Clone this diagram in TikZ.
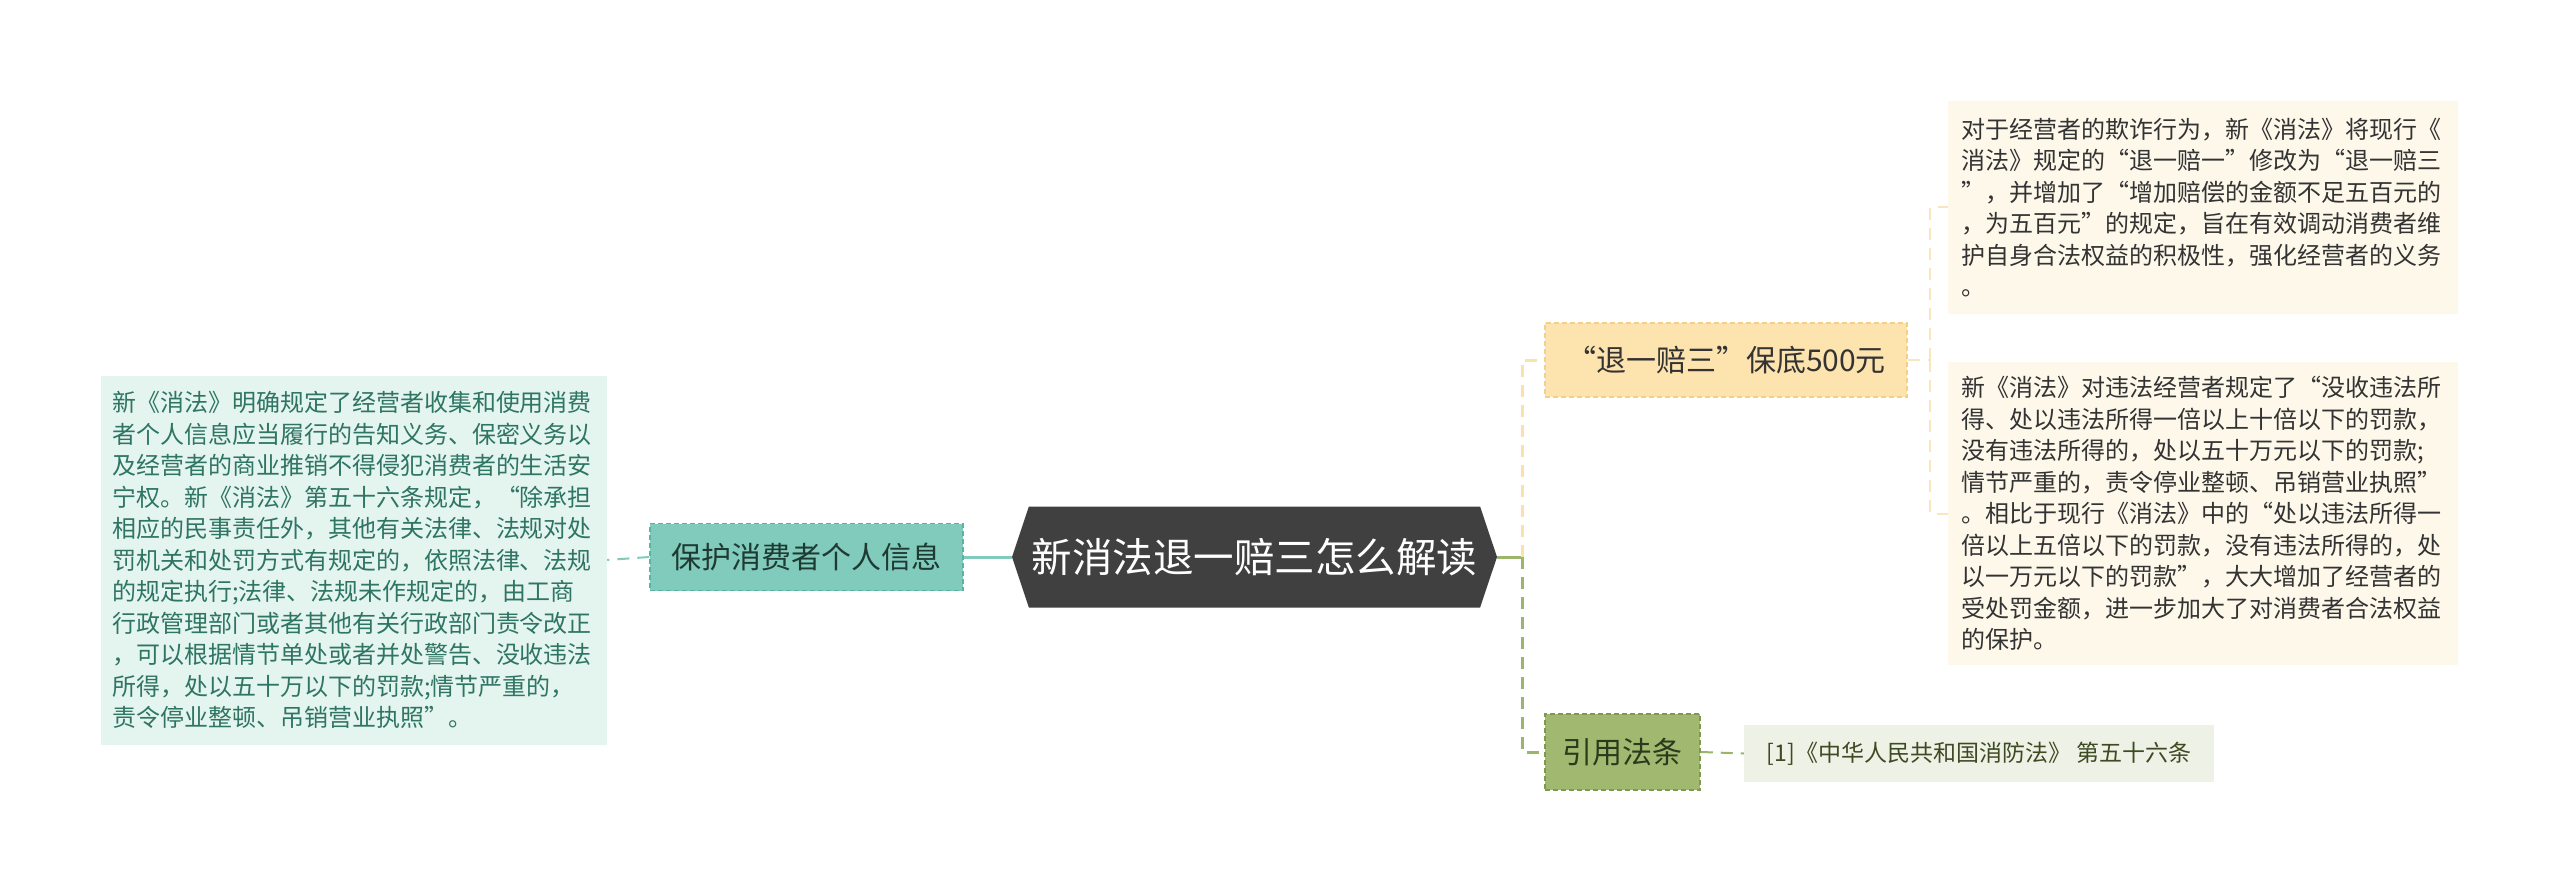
\documentclass[tikz,border=0pt]{standalone}
\usepackage{fontspec}
\setmainfont{Noto Sans CJK SC}
\usetikzlibrary{shapes.symbols}
\definecolor{rootc}{HTML}{404040}
\definecolor{tealc}{HTML}{80CBBB}
\definecolor{tealb}{HTML}{5EB3A0}
\definecolor{tealbox}{HTML}{E4F4EF}
\definecolor{tealtxt}{HTML}{2E7563}
\definecolor{tealdark}{HTML}{1F3A33}
\definecolor{yelc}{HTML}{FDE3AE}
\definecolor{yelb}{HTML}{F2CF8A}
\definecolor{yelline}{HTML}{F8E6BC}
\definecolor{yeltrunk}{HTML}{FAE2A8}
\definecolor{creambox}{HTML}{FDF8EA}
\definecolor{grnc}{HTML}{A0B870}
\definecolor{grnb}{HTML}{7F9A50}
\definecolor{grnline}{HTML}{9BB56A}
\definecolor{grnbox}{HTML}{EEF1E5}
\definecolor{grntxt}{HTML}{3D4A22}
\definecolor{grndark}{HTML}{2B3A1A}
\definecolor{txtc}{HTML}{333333}
\newcommand{\fsz}[2]{\fontsize{#1}{#2}\selectfont}
\begin{document}
\begin{tikzpicture}[x=1pt,y=-1pt,
  topic/.style={draw, dash pattern=on 5pt off 3pt, line width=1.5pt, inner sep=0pt, font=\fsz{30}{36}},
  textbox/.style={inner ysep=0pt, align=left, font=\fsz{24}{31.5}},
  dashline/.style={dash pattern=on 12pt off 8pt}
]
\useasboundingbox[fill=white] (0,0) rectangle (2560,893);

% root
\node[signal, signal to=west and east, signal pointer angle=143, fill=rootc, text=white,
      minimum width=485, minimum height=101, inner sep=0pt, font=\fsz{40.5}{48}] (root) at (1254.5,557) {新消法退一赔三怎么解读};

% left branch
\node[topic, fill=tealc, draw=tealb, text=tealdark, minimum width=313, minimum height=67] (n2) at (806.5,557) {保护消费者个人信息};
\node[textbox, fill=tealbox, text=tealtxt, text width=484, inner xsep=11pt, minimum height=369] (t0) at (354,560) {新《消法》明确规定了经营者收集和使用消费\\
者个人信息应当履行的告知义务、保密义务以\\
及经营者的商业推销不得侵犯消费者的生活安\\
宁权。新《消法》第五十六条规定，“除承担\\
相应的民事责任外，其他有关法律、法规对处\\
罚机关和处罚方式有规定的，依照法律、法规\\
的规定执行;法律、法规未作规定的，由工商\\
行政管理部门或者其他有关行政部门责令改正\\
，可以根据情节单处或者并处警告、没收违法\\
所得，处以五十万以下的罚款;情节严重的，\\
责令停业整顿、吊销营业执照”。};

% right branch
\node[topic, fill=yelc, draw=yelb, text=txtc, minimum width=362, minimum height=74] (n1) at (1726,360) {“退一赔三”保底500元};
\node[topic, fill=grnc, draw=grnb, text=grndark, minimum width=155, minimum height=76] (n3) at (1622.5,752) {引用法条};
\node[fill=grnbox, text=grntxt, minimum width=470, minimum height=57, inner sep=0pt, font=\fsz{23}{27}] (c1) at (1979,753.5) {[1]《中华人民共和国消防法》 第五十六条};

\node[textbox, fill=creambox, text=txtc, text width=484, inner xsep=13pt, minimum height=213] (t1) at (2203,207.5) {对于经营者的欺诈行为，新《消法》将现行《\\
消法》规定的“退一赔一”修改为“退一赔三\\
”，并增加了“增加赔偿的金额不足五百元的\\
，为五百元”的规定，旨在有效调动消费者维\\
护自身合法权益的积极性，强化经营者的义务\\
。};
\node[textbox, fill=creambox, text=txtc, text width=484, inner xsep=13pt, minimum height=303] (t2) at (2203,513.5) {新《消法》对违法经营者规定了“没收违法所\\
得、处以违法所得一倍以上十倍以下的罚款，\\
没有违法所得的，处以五十万元以下的罚款;\\
情节严重的，责令停业整顿、吊销营业执照”\\
。相比于现行《消法》中的“处以违法所得一\\
倍以上五倍以下的罚款，没有违法所得的，处\\
以一万元以下的罚款”，大大增加了经营者的\\
受处罚金额，进一步加大了对消费者合法权益\\
的保护。};

% connectors
\coordinate (jr) at (1522,557);
\coordinate (jy) at (1930,360);
\draw[tealc, line width=3pt] (root.west) -- (n2.east);
\draw[tealc, line width=2pt, dashline] (n2.west) -- (t0.east);
\draw[grnline, line width=3pt] (root.east) -- (jr);
\draw[yeltrunk, line width=3pt, dashline] (jr) |- (n1.west);
\draw[grnline, line width=3pt, dashline] (jr) |- (n3.west);
\draw[grnline, line width=2pt, dashline] (n3.east) -- (c1.west);
\draw[yelline, line width=2pt, dashline] (n1.east) -- (jy);
\draw[yelline, line width=2pt, dashline] (jy) |- (t1.west);
\draw[yelline, line width=2pt, dashline] (jy) |- (t2.west);
\end{tikzpicture}
\end{document}
